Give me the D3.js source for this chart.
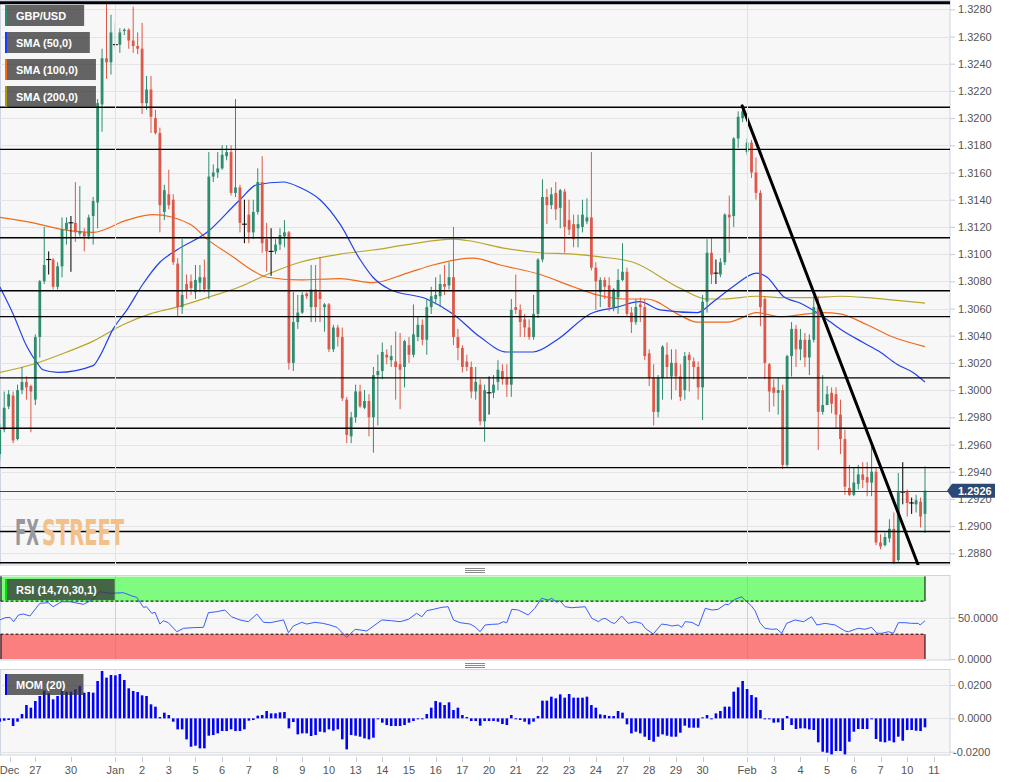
<!DOCTYPE html>
<html><head><meta charset="utf-8">
<script src="https://cdn.jsdelivr.net/npm/d3@7"></script>
<style>
html,body{margin:0;padding:0;background:#fff;}
svg{display:block;font-family:"Liberation Sans",Arial,sans-serif;}
</style></head><body>
<svg id="c" width="1015" height="782"></svg>
<script>
// ---------------- DATA ----------------
const opens = [1.2953,1.2971,1.2988,1.2996,1.2964,1.3000,1.3006,1.3003,1.2993,1.3039,
1.3080,1.3096,1.3096,1.3076,1.3091,1.3118,1.3123,1.3123,1.3115,1.3116,
1.3113,1.3128,1.3138,1.3210,1.3244,1.3241,1.3254,1.3254,1.3264,1.3265,
1.3257,1.3253,1.3251,1.3211,1.3221,1.3200,1.3189,1.3131,1.3144,1.3140,
1.3093,1.3061,1.3078,1.3080,1.3072,1.3079,1.3083,1.3074,1.3157,1.3160,
1.3163,1.3172,1.3175,1.3145,1.3149,1.3122,1.3129,1.3116,1.3131,1.3153,
1.3111,1.3102,1.3102,1.3107,1.3113,1.3116,1.3020,1.3050,1.3057,1.3071,
1.3061,1.3074,1.3072,1.3061,1.3063,1.3030,1.3046,1.3039,1.2993,1.2966,
1.2980,1.2999,1.2987,1.2992,1.2980,1.3011,1.3014,1.3026,1.3022,1.3021,
1.3019,1.3017,1.3033,1.3026,1.3039,1.3048,1.3037,1.3061,1.3067,1.3069,
1.3078,1.3077,1.3083,1.3039,1.3031,1.3021,1.3017,1.2999,1.3004,1.2977,
1.2998,1.2998,1.3006,1.3014,1.3009,1.3004,1.3061,1.3059,1.3052,1.3046,
1.3039,1.3056,1.3096,1.3142,1.3136,1.3145,1.3134,1.3146,1.3125,1.3122,
1.3119,1.3120,1.3124,1.3127,1.3090,1.3072,1.3081,1.3077,1.3061,1.3068,
1.3081,1.3087,1.3057,1.3050,1.3063,1.3061,1.3027,1.3009,1.2984,1.3009,
1.3026,1.3010,1.3020,1.3010,1.3000,1.3026,1.3021,1.3017,1.3002,1.3065,
1.3101,1.3086,1.3085,1.3094,1.3129,1.3128,1.3185,1.3200,1.3175,1.3182,
1.3160,1.3145,1.3067,1.3019,1.3002,1.2998,1.3000,1.2945,1.3025,1.3045,
1.3030,1.3037,1.3024,1.3037,1.3061,1.2984,1.2989,1.2998,1.2997,1.2982,
1.2964,1.2928,1.2923,1.2931,1.2938,1.2936,1.2932,1.2940,1.2888,1.2886,
1.2891,1.2898,1.2875,1.2925,1.2925,1.2917,1.2916,1.2918,1.2909];
const highs = [1.2975,1.2999,1.3000,1.2999,1.3004,1.3017,1.3010,1.3004,1.3041,1.3081,
1.3120,1.3102,1.3097,1.3094,1.3127,1.3127,1.3128,1.3153,1.3150,1.3119,
1.3129,1.3142,1.3214,1.3251,1.3285,1.3276,1.3270,1.3266,1.3266,1.3266,
1.3282,1.3263,1.3270,1.3231,1.3231,1.3206,1.3193,1.3151,1.3162,1.3144,
1.3097,1.3111,1.3085,1.3085,1.3092,1.3092,1.3096,1.3175,1.3166,1.3175,
1.3180,1.3180,1.3180,1.3214,1.3151,1.3140,1.3140,1.3140,1.3163,1.3172,
1.3123,1.3119,1.3111,1.3119,1.3125,1.3117,1.3072,1.3070,1.3072,1.3072,
1.3092,1.3092,1.3098,1.3064,1.3064,1.3048,1.3048,1.3046,1.2995,1.2984,
1.3004,1.3004,1.3000,1.2997,1.3017,1.3026,1.3035,1.3030,1.3033,1.3043,
1.3042,1.3037,1.3039,1.3063,1.3054,1.3052,1.3067,1.3076,1.3083,1.3085,
1.3092,1.3094,1.3120,1.3045,1.3033,1.3026,1.3021,1.3017,1.3008,1.3004,
1.3010,1.3011,1.3022,1.3019,1.3019,1.3067,1.3085,1.3063,1.3056,1.3052,
1.3070,1.3097,1.3155,1.3148,1.3149,1.3153,1.3148,1.3148,1.3140,1.3129,
1.3129,1.3140,1.3141,1.3175,1.3094,1.3083,1.3083,1.3083,1.3075,1.3089,
1.3108,1.3090,1.3061,1.3067,1.3068,1.3067,1.3030,1.3019,1.3011,1.3033,
1.3035,1.3030,1.3030,1.3019,1.3028,1.3028,1.3024,1.3021,1.3070,1.3111,
1.3112,1.3096,1.3097,1.3130,1.3143,1.3186,1.3205,1.3208,1.3185,1.3184,
1.3171,1.3147,1.3069,1.3020,1.3008,1.3009,1.3004,1.3026,1.3050,1.3048,
1.3045,1.3042,1.3041,1.3069,1.3069,1.3011,1.3003,1.3002,1.3002,1.2993,
1.2971,1.2945,1.2943,1.2945,1.2947,1.2947,1.2960,1.2943,1.2894,1.2895,
1.2905,1.2910,1.2939,1.2947,1.2927,1.2921,1.2923,1.2921,1.2944];
const lows = [1.2949,1.2969,1.2986,1.2961,1.2963,1.2997,1.2993,1.2969,1.2989,1.3024,
1.3078,1.3085,1.3074,1.3074,1.3083,1.3107,1.3087,1.3109,1.3113,1.3102,
1.3111,1.3107,1.3119,1.3190,1.3229,1.3232,1.3251,1.3248,1.3261,1.3251,
1.3248,1.3247,1.3203,1.3206,1.3189,1.3188,1.3116,1.3125,1.3133,1.3092,
1.3054,1.3056,1.3067,1.3070,1.3067,1.3072,1.3072,1.3067,1.3153,1.3156,
1.3162,1.3169,1.3143,1.3142,1.3116,1.3108,1.3108,1.3111,1.3129,1.3101,
1.3087,1.3084,1.3100,1.3103,1.3105,1.3015,1.3014,1.3045,1.3056,1.3067,
1.3050,1.3050,1.3050,1.3043,1.3028,1.3028,1.3032,1.2992,1.2961,1.2961,
1.2976,1.2987,1.2986,1.2966,1.2954,1.2974,1.3008,1.3019,1.3017,1.2993,
1.2986,1.3002,1.3020,1.3024,1.3036,1.3033,1.3026,1.3056,1.3063,1.3061,
1.3070,1.3074,1.3033,1.3022,1.3013,1.3014,1.2994,1.2993,1.2974,1.2962,
1.2982,1.2994,1.3000,1.3004,1.2995,1.2995,1.3056,1.3039,1.3039,1.3037,
1.3037,1.3053,1.3094,1.3122,1.3133,1.3125,1.3119,1.3101,1.3114,1.3105,
1.3105,1.3116,1.3122,1.3088,1.3059,1.3061,1.3067,1.3058,1.3058,1.3056,
1.3080,1.3054,1.3042,1.3048,1.3050,1.3022,1.3003,1.2974,1.2980,1.2993,
1.3009,1.2993,1.3000,1.2992,1.2993,1.2999,1.3008,1.2993,1.2978,1.3057,
1.3078,1.3078,1.3083,1.3092,1.3101,1.3120,1.3178,1.3197,1.3173,1.3156,
1.3140,1.3047,1.3008,1.2984,1.2988,1.2982,1.2942,1.2943,1.3010,1.3017,
1.3022,1.3017,1.3011,1.3035,1.2956,1.2982,1.2989,1.2983,1.2972,1.2953,
1.2923,1.2922,1.2922,1.2927,1.2928,1.2922,1.2922,1.2886,1.2883,1.2885,
1.2888,1.2872,1.2873,1.2916,1.2907,1.2909,1.2910,1.2899,1.2895];
const closes = [1.2971,1.2987,1.2997,1.2963,1.3000,1.3006,1.3002,1.2999,1.3039,1.3080,
1.3092,1.3096,1.3076,1.3091,1.3118,1.3123,1.3123,1.3116,1.3117,1.3113,
1.3127,1.3139,1.3211,1.3244,1.3241,1.3263,1.3254,1.3263,1.3265,1.3257,
1.3253,1.3251,1.3211,1.3221,1.3201,1.3189,1.3136,1.3147,1.3136,1.3094,
1.3061,1.3070,1.3073,1.3075,1.3081,1.3083,1.3074,1.3157,1.3160,1.3163,
1.3173,1.3175,1.3145,1.3149,1.3123,1.3122,1.3116,1.3131,1.3153,1.3108,
1.3102,1.3102,1.3107,1.3114,1.3116,1.3020,1.3050,1.3057,1.3070,1.3069,
1.3074,1.3061,1.3067,1.3063,1.3030,1.3046,1.3039,1.2994,1.2967,1.2980,
1.2999,1.2988,1.2992,1.2980,1.3011,1.3014,1.3028,1.3024,1.3025,1.3017,
1.3015,1.3036,1.3026,1.3041,1.3048,1.3037,1.3061,1.3069,1.3070,1.3078,
1.3076,1.3083,1.3039,1.3031,1.3017,1.3017,1.2999,1.3006,1.2977,1.3000,
1.2998,1.3004,1.3015,1.3008,1.3004,1.3059,1.3059,1.3050,1.3046,1.3039,
1.3056,1.3096,1.3142,1.3136,1.3144,1.3133,1.3147,1.3120,1.3118,1.3111,
1.3122,1.3129,1.3127,1.3090,1.3080,1.3081,1.3076,1.3061,1.3074,1.3081,
1.3087,1.3056,1.3050,1.3061,1.3061,1.3025,1.3009,1.2984,1.3009,1.3032,
1.3017,1.3020,1.3010,1.2995,1.3025,1.3022,1.3017,1.3002,1.3065,1.3101,
1.3085,1.3086,1.3094,1.3129,1.3127,1.3185,1.3201,1.3205,1.3182,1.3160,
1.3145,1.3061,1.3020,1.2999,1.2998,1.3000,1.2945,1.3025,1.3045,1.3030,
1.3037,1.3024,1.3037,1.3061,1.2984,1.2989,1.2997,1.2990,1.2982,1.2964,
1.2929,1.2923,1.2932,1.2938,1.2934,1.2932,1.2940,1.2888,1.2885,1.2892,
1.2898,1.2873,1.2925,1.2925,1.2917,1.2917,1.2919,1.2907,1.2926];

const sma50Idx = [0,3,6.1,8.4,9.7,13.1,21,22.5,25.5,28.6,32.2,36,39.8,46.6,54,57.8,63.7,67.5,72,76.5,81,83.9,87.7,96,101.9,108,114,119.9,125.3,132.7,138.8,143.9,148.4,156.8,160.4,164.8,170.2,172.5,176.1,179.9,185.1,188.9,194.1,197.9,201.7,205.3,208];
const sma50 = [1.3076,1.3056,1.3032,1.3020,1.3015,1.3013,1.3018,1.3025,1.3045,1.3059,1.3078,1.3094,1.3103,1.3116,1.3140,1.3151,1.3153,1.3149,1.3140,1.3122,1.3096,1.3083,1.3074,1.3067,1.3056,1.3039,1.3028,1.3028,1.3037,1.3056,1.3061,1.3065,1.3059,1.3057,1.3065,1.3076,1.3086,1.3083,1.3069,1.3064,1.3054,1.3045,1.3035,1.3028,1.3019,1.3013,1.3006];
const sma100Idx = [0,7.5,14.2,21,28.6,34.5,42.8,46.6,52.4,56.3,60.1,67.5,76.5,83.9,91.6,97.4,102.8,106.4,112.5,121.5,128.9,134.3,140.1,145.5,152.9,156.8,163.7,170.2,175.4,181.5,185.1,188.9,195,200.8,208];
const sma100 = [1.3127,1.3123,1.3118,1.3116,1.3125,1.3129,1.3122,1.3111,1.3098,1.3089,1.3083,1.3081,1.3082,1.3079,1.3086,1.3092,1.3096,1.3097,1.3092,1.3085,1.3076,1.3070,1.3067,1.3067,1.3055,1.3050,1.3050,1.3057,1.3054,1.3056,1.3057,1.3056,1.3048,1.3039,1.3032];
const sma200Idx = [0,7.5,15.1,21,27.7,33.8,39.8,46.6,54,60.1,67.5,76.5,83.9,91.6,101.9,105,114,121.5,128.9,135,142.4,152.9,159,162.6,170.2,175.4,182.8,188.9,195,201.7,208];
const sma200 = [1.3013,1.3019,1.3028,1.3036,1.3048,1.3056,1.3061,1.3068,1.3076,1.3085,1.3094,1.3100,1.3103,1.3107,1.3111,1.3110,1.3104,1.3101,1.3100,1.3098,1.3094,1.3075,1.3067,1.3067,1.3069,1.3068,1.3068,1.3069,1.3068,1.3066,1.3064];

const rsiIdx = [0,1.2,2.3,3.1,4.2,5.3,6.8,9,10.9,12,13.9,15.8,18.8,20.7,22.5,24.8,27.8,29.7,30.8,32.3,33,34.2,34.9,36,36.8,37.9,39.8,41.3,43.5,45.8,46.9,48.8,50.6,52.1,54,55.9,57.8,59.3,60.8,63.8,64.9,66,67.9,69,70.9,72.7,74.2,75.8,78,79.9,81,82.5,85.9,88.1,90,91.9,93.7,94.9,96,97.5,99.4,100.8,102,103.5,105.7,106.8,108,109.1,110.6,112.1,113.2,114,115.1,116.6,118.8,120.3,121.8,123.3,124.1,125.2,125.9,127.1,128.6,131.6,133.1,134.6,135.3,136.1,137.6,138.3,139.8,141.3,142.8,144.3,145.1,146.9,148.8,150.3,151.1,152.5,153.3,154.1,155.6,157.1,158.6,160.1,161.5,163.1,163.8,165.3,166.8,167.5,169,169.8,170.9,172,173.5,174.7,175.8,176.9,178.8,180.7,182.5,183.7,185.5,187.8,190,190.8,192.3,193,194.5,196,197.2,198.3,199.8,200.9,202,203.5,205,206.5,206.9,208];
const rsiVal = [47.2,49.9,50.4,45.1,53.2,54.4,52.0,67.3,68.1,63.2,69.3,69.3,66.1,71.3,81.4,79.4,80.2,76.2,74.6,62.5,63.2,55.2,56.5,42.3,46.3,43.9,33.0,37.1,37.9,38.3,56.0,57.2,59.2,51.1,47.2,45.1,54.4,44.3,43.9,47.2,31.8,39.9,44.3,42.3,44.3,43.1,41.1,38.3,26.2,35.9,35.1,33.9,47.2,46.3,45.1,48.0,55.2,51.1,58.4,60.1,62.5,63.2,47.2,43.9,42.3,39.1,33.0,41.1,41.9,42.3,45.1,43.9,60.1,59.2,53.2,61.3,73.4,71.3,73.4,68.6,70.5,63.2,62.0,63.2,49.2,45.1,48.0,49.2,43.9,43.1,52.0,43.1,45.1,43.1,37.1,30.2,42.3,41.1,39.9,41.1,38.3,45.1,44.3,39.9,61.3,59.2,60.1,66.1,65.7,72.2,75.3,71.3,64.1,58.4,43.9,37.1,35.9,36.3,31.1,43.1,47.2,45.1,51.1,41.1,43.1,41.1,33.9,33.0,35.9,37.1,35.9,38.3,31.1,31.1,33.0,31.1,43.9,43.9,43.1,43.1,41.1,46.3];

const mom = [-0.0020,-0.0014,-0.0010,-0.0046,-0.0020,0.0026,0.0080,0.0064,0.0104,0.0134,
0.0166,0.0150,0.0114,0.0134,0.0174,0.0160,0.0160,0.0174,0.0194,0.0154,
0.0158,0.0154,0.0224,0.0284,0.0244,0.0260,0.0258,0.0266,0.0230,0.0180,
0.0164,0.0158,0.0138,0.0134,0.0084,0.0070,0.0008,0.0034,0.0020,-0.0020,
-0.0066,-0.0066,-0.0126,-0.0170,-0.0164,-0.0180,-0.0180,-0.0104,-0.0100,-0.0090,
-0.0076,-0.0076,-0.0066,-0.0076,-0.0076,-0.0066,-0.0014,-0.0010,0.0016,0.0020,
0.0044,0.0030,0.0030,0.0036,0.0038,-0.0060,-0.0022,-0.0096,-0.0090,-0.0090,
-0.0106,-0.0100,-0.0080,-0.0084,-0.0066,-0.0074,-0.0066,-0.0126,-0.0186,-0.0100,
-0.0104,-0.0110,-0.0120,-0.0126,-0.0116,-0.0006,-0.0026,-0.0040,-0.0046,-0.0046,
-0.0046,-0.0040,-0.0026,-0.0016,-0.0004,-0.0006,0.0026,0.0064,0.0104,0.0096,
0.0080,0.0096,0.0050,0.0064,0.0020,0.0008,-0.0016,-0.0016,-0.0044,-0.0016,
-0.0016,-0.0016,-0.0020,-0.0034,-0.0040,0.0020,-0.0006,-0.0010,-0.0020,-0.0036,
-0.0020,0.0014,0.0106,0.0106,0.0130,0.0120,0.0144,0.0124,0.0146,0.0124,
0.0124,0.0124,0.0130,0.0080,0.0064,0.0024,0.0020,0.0014,0.0014,0.0044,
0.0034,-0.0036,-0.0090,-0.0080,-0.0090,-0.0110,-0.0130,-0.0140,-0.0110,-0.0096,
-0.0104,-0.0110,-0.0110,-0.0086,-0.0044,-0.0056,-0.0056,-0.0056,0.0006,0.0020,
-0.0002,0.0030,0.0044,0.0070,0.0070,0.0160,0.0186,0.0224,0.0176,0.0140,
0.0126,0.0050,-0.0002,-0.0002,-0.0026,-0.0024,-0.0070,0.0014,-0.0040,-0.0064,
-0.0060,-0.0060,-0.0066,-0.0070,-0.0144,-0.0200,-0.0206,-0.0216,-0.0196,-0.0196,
-0.0216,-0.0140,-0.0080,-0.0064,-0.0064,-0.0064,-0.0002,-0.0124,-0.0140,-0.0144,
-0.0134,-0.0144,-0.0110,-0.0134,-0.0070,-0.0070,-0.0074,-0.0076,-0.0054];

const hLevels = [1.3208,1.3177,1.3112,1.3073,1.3054,1.3009,1.2972,1.2943,1.2896,1.2873];
const topLevel = 1.3286;
const lastPrice = 1.2926;
const trendIdx = [166.9, 206.4];
const trendVal = [1.3209, 1.2872];

const priceTicks = [1.2880,1.2900,1.2920,1.2940,1.2960,1.2980,1.3000,1.3020,1.3040,1.3060,1.3080,1.3100,1.3120,1.3140,1.3160,1.3180,1.3200,1.3220,1.3240,1.3260,1.3280];
const rsiTicks = [0, 50];
const momTicks = [-0.02, 0, 0.02];
const xLabels = ["Dec","27","30","Jan","2","3","5","6","7","8","9","10","13","14","15","16","17","20","21","22","23","24","27","28","29","30","Feb","3","4","5","6","7","10","11"];
const xLabelIdx = [2.2,8,16,26,32,38,44,50,56,62,68,74,80,86,92,98,104,110,116,122,128,134,140,146,152,158,168,174,180,186,192,198,204,210];
const monthLabels = ["Jan","Feb"];

const legendLabels = ["GBP/USD","SMA (50,0)","SMA (100,0)","SMA (200,0)"];
const legendColors = ["#2e8a70","#1a3cff","#ff6a10","#a89a10"];

// ---------------- LAYOUT ----------------
const PR = 950;
const mainP = {top:0, bottom:565};
const rsiP = {top:575, bottom:660};
const momP = {top:669, bottom:755};
const GREEN = "#2e8c70", RED = "#dd5848";

const svg = d3.select("#c");
const x = d3.scaleLinear().domain([0,208]).range([-0.25,925]);
const y = d3.scaleLinear().domain([1.288,1.328]).range([553.3,9.3]);
const yR = d3.scaleLinear().domain([0,100]).range([659,576.3]);
const yM = d3.scaleLinear().domain([-0.02,0.02]).range([751.7,685]);

const defs = svg.append("defs");
[["cm",mainP],["cr",rsiP],["cmo",momP]].forEach(([id,p])=>{
  defs.append("clipPath").attr("id",id).append("rect").attr("x",0).attr("y",p.top).attr("width",PR).attr("height",p.bottom-p.top);
});

// panel backgrounds
[mainP,rsiP,momP].forEach(p=>{
  svg.append("rect").attr("x",0.5).attr("y",p.top+0.5).attr("width",PR-0.5).attr("height",p.bottom-p.top-0.5)
    .attr("fill","#f7f7f7").attr("stroke","#cdd4e0").attr("stroke-width",1);
});

// horizontal grids
const gMain = svg.append("g").attr("clip-path","url(#cm)");
gMain.selectAll("line.grid").data(priceTicks).join("line")
  .attr("x1",0).attr("x2",PR).attr("y1",d=>Math.round(y(d))+0.5).attr("y2",d=>Math.round(y(d))+0.5)
  .attr("stroke","#e4e4e4");
svg.append("line").attr("x1",0).attr("x2",PR).attr("y1",Math.round(yR(50))+0.5).attr("y2",Math.round(yR(50))+0.5).attr("stroke","#e4e4e4");
momTicks.forEach(t=>svg.append("line").attr("x1",0).attr("x2",PR).attr("y1",Math.round(yM(t))+0.5).attr("y2",Math.round(yM(t))+0.5).attr("stroke","#e4e4e4"));

// vertical month grid lines
const monthIdx = xLabelIdx.filter((d,i)=>monthLabels.includes(xLabels[i]));
[mainP,rsiP,momP].forEach(p=>{
  monthIdx.forEach(m=>{
    svg.append("line").attr("x1",Math.round(x(m))+0.5).attr("x2",Math.round(x(m))+0.5)
      .attr("y1",p.top+1).attr("y2",p.bottom).attr("stroke","#e2e2e2");
  });
});

// watermark
const wmFont = "DejaVu Sans Condensed, DejaVu Sans, sans-serif";
svg.append("text").attr("x",15).attr("y",545).attr("font-family",wmFont).attr("font-weight","bold").attr("font-size",36)
  .attr("fill","#96989e").attr("textLength",24).attr("lengthAdjust","spacingAndGlyphs").text("FX");
svg.append("text").attr("x",42).attr("y",545).attr("font-family",wmFont).attr("font-weight","bold").attr("font-size",36)
  .attr("fill","#f2c088").attr("textLength",82).attr("lengthAdjust","spacingAndGlyphs").text("STREET");

// SMA lines
const lineGen = d3.line().curve(d3.curveMonotoneX).x(d=>x(d[0])).y(d=>y(d[1]));
[[sma200Idx,sma200,"#b8a628"],[sma100Idx,sma100,"#f06a1a"],[sma50Idx,sma50,"#2040f0"]].forEach(([ix,v,c])=>{
  gMain.append("path").datum(ix.map((d,i)=>[d,v[i]])).attr("d",lineGen).attr("fill","none").attr("stroke",c).attr("stroke-width",1.2);
});

// candles
const candles = gMain.append("g");
const n = closes.length;
for (let i=0;i<n;i++){
  const o=opens[i], c=closes[i], h=highs[i], l=lows[i];
  const col = c>o ? GREEN : (c<o ? RED : "#000");
  const cx = x(i);
  candles.append("line").attr("x1",cx).attr("x2",cx).attr("y1",y(h)).attr("y2",y(l)).attr("stroke",col).attr("stroke-width",1);
  if (c===o){
    candles.append("line").attr("x1",cx-2.5).attr("x2",cx+2.5).attr("y1",y(c)).attr("y2",y(c)).attr("stroke","#000").attr("stroke-width",1);
  } else {
    const y0=Math.min(y(o),y(c)), y1=Math.max(y(o),y(c));
    candles.append("rect").attr("x",cx-1.4).attr("y",y0).attr("width",2.8).attr("height",Math.max(1,y1-y0)).attr("fill",col);
  }
}

// horizontal levels
gMain.selectAll("line.lvl").data(hLevels).join("line")
  .attr("x1",0).attr("x2",PR).attr("y1",d=>y(d)).attr("y2",d=>y(d)).attr("stroke","#000").attr("stroke-width",1.4);
svg.append("line").attr("x1",0).attr("x2",PR).attr("y1",y(topLevel)+1.5).attr("y2",y(topLevel)+1.5).attr("stroke","#000").attr("stroke-width",3);
// last price line
gMain.append("line").attr("x1",0).attr("x2",PR).attr("y1",Math.round(y(lastPrice))+0.5).attr("y2",Math.round(y(lastPrice))+0.5).attr("stroke","#2c4873").attr("stroke-width",1);
// trend line
gMain.append("line").attr("x1",x(trendIdx[0])).attr("y1",y(trendVal[0])).attr("x2",x(trendIdx[1])).attr("y2",y(trendVal[1]))
  .attr("stroke","#000").attr("stroke-width",3).attr("stroke-linecap","round");

// RSI bands
const bx0 = 0.5, bx1 = x(208);
svg.append("rect").attr("x",bx0).attr("y",yR(100)+0.4).attr("width",bx1-bx0).attr("height",yR(70)-yR(100)).attr("fill","#7ffc7f");
svg.append("rect").attr("x",bx0).attr("y",yR(30)).attr("width",bx1-bx0).attr("height",yR(0)-yR(30)).attr("fill","#fc7f7f");
[70,30].forEach(v=>svg.append("line").attr("x1",bx0).attr("x2",bx1).attr("y1",yR(v)).attr("y2",yR(v)).attr("stroke","#000").attr("stroke-dasharray","3,2").attr("stroke-width",1));
svg.append("line").attr("x1",bx1).attr("x2",bx1).attr("y1",yR(100)).attr("y2",yR(70)).attr("stroke","#000");
svg.append("line").attr("x1",bx1).attr("x2",bx1).attr("y1",yR(30)).attr("y2",yR(0)).attr("stroke","#000");
svg.append("line").attr("x1",bx0+0.5).attr("x2",bx0+0.5).attr("y1",yR(30)).attr("y2",yR(0)).attr("stroke","#000");
svg.append("line").attr("x1",bx0+0.5).attr("x2",bx0+0.5).attr("y1",yR(100)).attr("y2",yR(70)).attr("stroke","#000");
monthIdx.forEach(m=>svg.append("line").attr("x1",Math.round(x(m))+0.5).attr("x2",Math.round(x(m))+0.5).attr("y1",rsiP.top+1).attr("y2",rsiP.bottom).attr("stroke","rgba(0,0,0,0.07)"));

// RSI line
const rsiLine = d3.line().x(d=>x(d[0])).y(d=>yR(d[1]));
svg.append("g").attr("clip-path","url(#cr)").append("path").datum(rsiIdx.map((d,i)=>[d,rsiVal[i]]))
  .attr("d",rsiLine).attr("fill","none").attr("stroke","#3a5cff").attr("stroke-width",1);

// MOM bars
svg.append("g").attr("clip-path","url(#cmo)").selectAll("rect").data(mom).join("rect")
  .attr("x",(d,i)=>x(i)-1.3).attr("width",2.6)
  .attr("y",d=>Math.min(yM(0),yM(d))).attr("height",d=>Math.max(1,Math.abs(yM(d)-yM(0))))
  .attr("fill","#0000ff");

// splitter handles
[568,663].forEach(yy=>{
  [0,2,4].forEach(k=>svg.append("line").attr("x1",465).attr("x2",485).attr("y1",yy+k+0.5).attr("y2",yy+k+0.5).attr("stroke","#8a8a8a"));
});

// axes
function styleAxis(g){
  g.select(".domain").remove();
  g.selectAll(".tick line").attr("stroke","#c4cad6");
  g.selectAll("text").attr("fill","#555").attr("font-size",11).attr("font-family","Liberation Sans, Arial, sans-serif");
  g.selectAll(".tick text").filter(d=>d<0).attr("x",3);
}
const fmt = d=>d.toFixed(4);
svg.append("g").attr("transform",`translate(${PR},0)`).call(d3.axisRight(y).tickValues(priceTicks).tickFormat(fmt).tickSize(5).tickPadding(3)).call(styleAxis);
svg.append("g").attr("transform",`translate(${PR},0)`).call(d3.axisRight(yR).tickValues(rsiTicks).tickFormat(fmt).tickSize(5).tickPadding(3)).call(styleAxis);
svg.append("g").attr("transform",`translate(${PR},0)`).call(d3.axisRight(yM).tickValues(momTicks).tickFormat(fmt).tickSize(5).tickPadding(3)).call(styleAxis);

// x axis
const xa = svg.append("g");
xLabelIdx.forEach((ix,k)=>{
  const xx = Math.round(x(ix))+0.5;
  xa.append("line").attr("x1",xx).attr("x2",xx).attr("y1",757).attr("y2",762).attr("stroke","#c4cad6");
  xa.append("text").attr("x",x(ix)).attr("y",773.5).attr("text-anchor","middle").attr("fill","#555").attr("font-size",11).text(xLabels[k]);
});

// last price label
const ly = y(lastPrice);
svg.append("path").attr("d",`M947,${ly} L952,${ly-7} L995,${ly-7} L995,${ly+7} L952,${ly+7} Z`).attr("fill","#2c4873");
svg.append("text").attr("x",958).attr("y",ly+4).attr("fill","#fff").attr("font-size",11).attr("font-weight","bold").text(lastPrice.toFixed(4));

// legends
function legend(x0,y0,label,color){
  const g = svg.append("g");
  const r = g.append("rect").attr("x",x0).attr("y",y0).attr("height",21).attr("fill","rgba(51,51,51,0.75)");
  const t = g.append("text").attr("x",x0+11).attr("y",y0+15).attr("fill","#fff").attr("font-size",11).attr("font-weight","bold").text(label);
  r.attr("width",t.node().getComputedTextLength()+29);
  g.append("rect").attr("x",x0).attr("y",y0).attr("width",2).attr("height",21).attr("fill",color);
}
legendLabels.forEach((l,k)=>legend(5,5+27*k,l,legendColors[k]));
legend(5,579,"RSI (14,70,30,1)","#00e000");
legend(5,674,"MOM (20)","#0000ff");
</script>
</body></html>
